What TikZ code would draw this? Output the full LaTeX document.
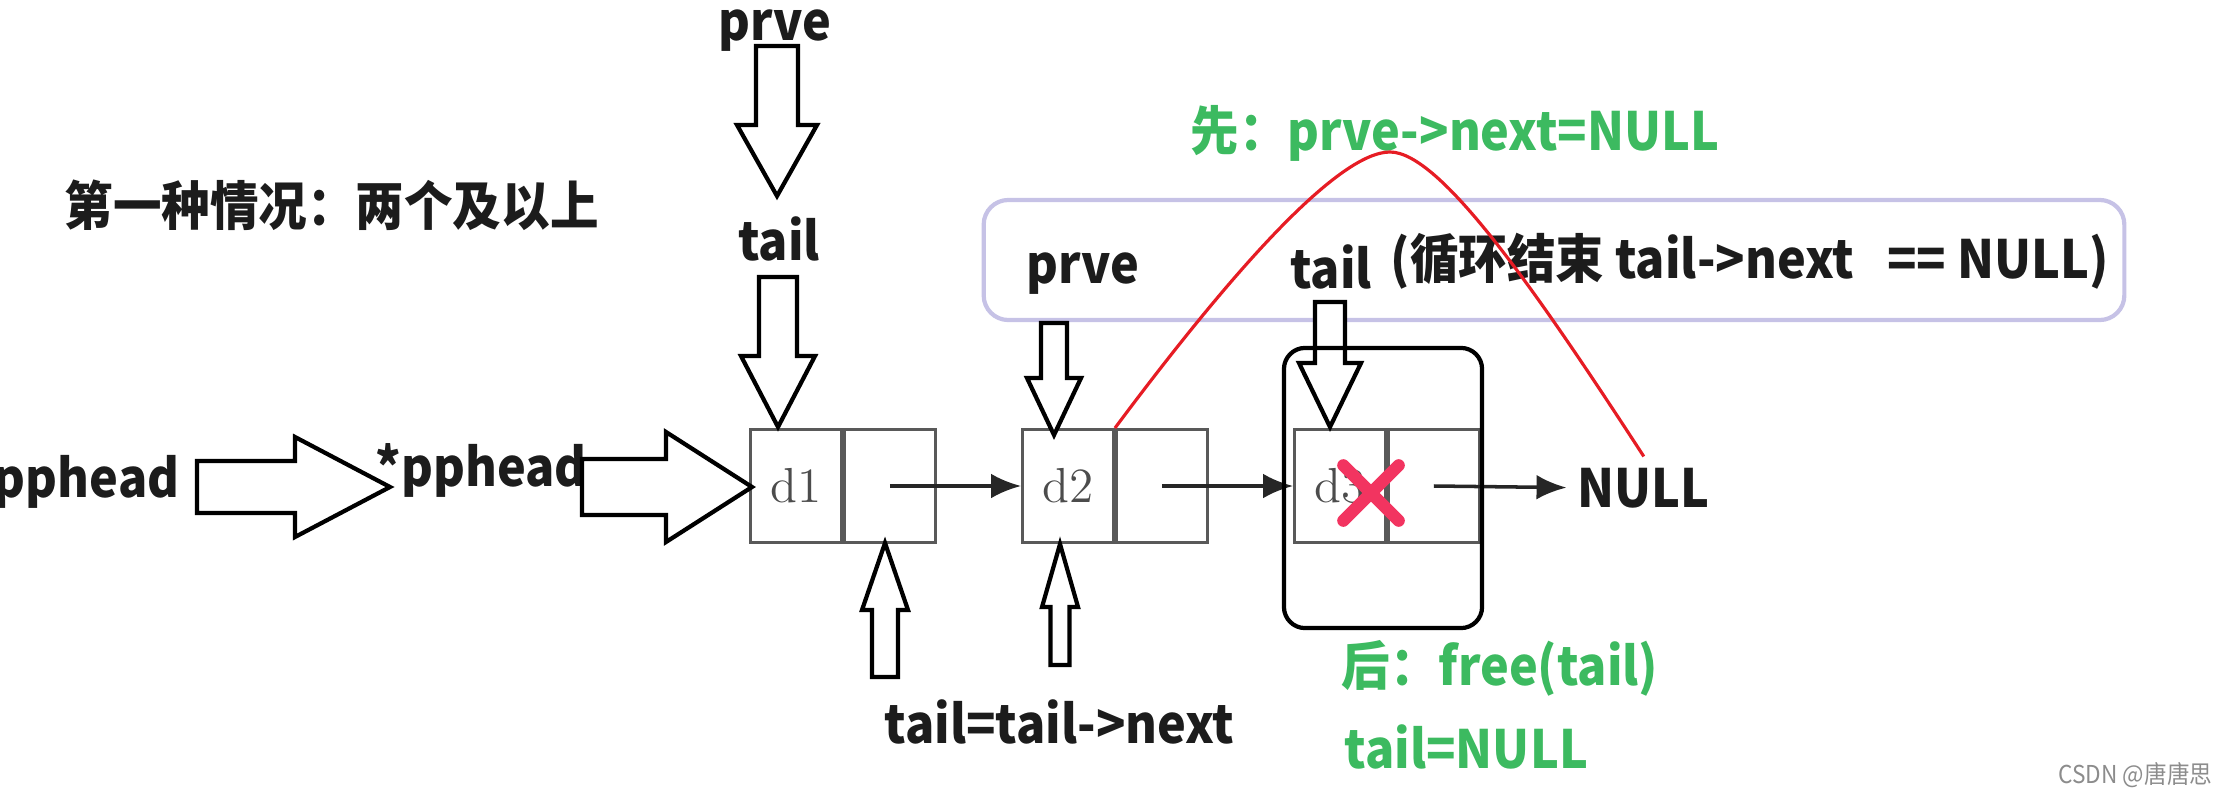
\documentclass[tikz,border=0pt]{standalone}
\usepackage{fontspec}
\newfontfamily\cjk{Noto Sans CJK SC}[FakeStretch=0.92]
\usetikzlibrary{arrows.meta,positioning,shapes.misc}
\definecolor{leafgreen}{RGB}{60,186,96}
\definecolor{lilac}{RGB}{198,194,230}
\definecolor{rose}{RGB}{242,52,96}
\definecolor{scarlet}{RGB}{230,28,36}
\definecolor{ink}{RGB}{28,28,28}
\tikzset{
  >={Latex[length=8.5pt,width=7pt]},
  lbl/.style={font=\cjk\bfseries\fontsize{15pt}{18pt}\selectfont,text=ink,inner sep=0pt},
  note/.style={lbl,text=leafgreen},
  cell/.style={draw=black!65,thick,minimum width=0.91cm,minimum height=1.13cm,inner sep=0pt,
    font=\fontsize{14pt}{16pt}\selectfont,text=black!70},
  link/.style={->,line width=1pt,draw=black!85},
  loop box/.style={draw=lilac,line width=1.2pt,rounded corners=7pt,minimum width=11.4cm,minimum height=1.2cm},
  gone box/.style={draw=black,very thick,rounded corners=6pt,minimum width=1.98cm,minimum height=2.8cm},
  % hollow block arrow: length, half shaft, half head, head length
  pics/hollow/.style n args={4}{code={
    \draw[black,line width=1.2pt,fill=white,line join=miter]
      (0,0) -- (-#4,#3) -- (-#4,#2) -- (-#1,#2) -- (-#1,-#2) -- (-#4,-#2) -- (-#4,-#3) -- cycle;
  }},
}

\begin{document}
\begin{tikzpicture}[x=0.01cm,y=-0.01cm]
  \useasboundingbox (0,0) rectangle (2228,794);
  \node[lbl,font=\cjk\bfseries\fontsize{15pt}{18pt}\selectfont,anchor=west] (title) at (64,205) {第一种情况：两个及以上};

  \node[loop box] (loop) at (1554,260) {};
  \node[lbl,anchor=base] (prve2) at (1083,283) {prve};
  \node[lbl,anchor=base] (tail2) at (1331,288) {tail};
  \node[lbl,anchor=base west] (cond) at (1390,278) {(循环结束 tail->next\ \ \ == NULL)};

  \foreach \i in {1,2,3}{
    \node[cell] (d\i) at ({796+272*(\i-1)},486) {d\i};
    \node[cell,right=0pt of d\i] (p\i) {};
  }
  \node[lbl,anchor=base west] (null) at (1577,507) {NULL};
  \foreach \i [count=\j from 2] in {1,2} \draw[link] (p\i.center) -- (d\j.west);
  \draw[link,shorten >=3pt] (p3.center) -- (null.west);

  \node[lbl,anchor=base] (prve) at (775,41) {prve};
  \node[lbl,anchor=base] (tail) at (779,260) {tail};
  \node[lbl,anchor=base east] (pp) at (180,497) {pphead};
  \node[lbl,anchor=base west] (ptr) at (375,486) {*pphead};
  \node[lbl,anchor=base west] (advance) at (884,743) {tail=tail->next};

  \pic[rotate=-90] at (777,196) {hollow={150}{21}{40}{71}};
  \pic[rotate=-90] at (778,427) {hollow={150}{19}{37}{71}};
  \pic at (390,487) {hollow={193}{26}{50}{95}};
  \pic at (752,487) {hollow={170}{28}{55}{86}};
  \pic[rotate=90] at (885,543) {hollow={134}{13}{23}{67}};
  \pic[rotate=90] at (1060,544) {hollow={121}{9.5}{18}{63}};
  \pic[rotate=-90] at (1054,435) {hollow={112}{13}{27}{57}};
  \pic[rotate=-90] at (1330,427) {hollow={125}{15}{31}{64}};

  \node[gone box] (gone) at (1383,488) {};
  \node[cross out,draw=rose,line width=3.5pt,line cap=round,minimum size=0.43cm,inner sep=0pt] (cross) at (1371,493) {};

  \node[note,anchor=base west] (first) at (1190,150) {先：prve->next=NULL};
  \node[note,anchor=base west] (later) at (1341,685) {后：free(tail)};
  \node[note,anchor=base west] (clear) at (1344,768) {tail=NULL};
  \node[font=\cjk\fontsize{7pt}{8pt}\selectfont,text=black!45,anchor=base east,inner sep=0pt] (mark) at (2213,783) {CSDN @唐唐思};

  \draw[scarlet,line width=0.9pt] (d2.north east) .. controls (1238,263) and (1340,152) .. (1390,152)
    .. controls (1440,152) and (1535,289) .. ([yshift=3pt]null.north);
\end{tikzpicture}
\end{document}
